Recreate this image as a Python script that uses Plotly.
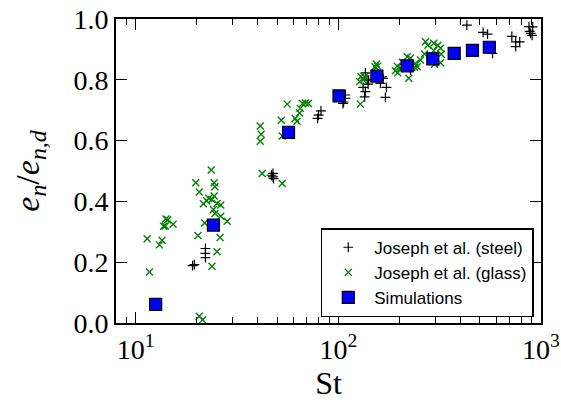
import math
import plotly.graph_objects as go

# --- data ---
steel_st = [19.5, 19.1, 22.1, 22.1, 22.1, 47.6, 47.6, 46.8, 47.9, 79.0, 79.9, 82.1,
            105.5, 108.3, 108.3, 106.2, 136.0, 138.7, 132.5, 136.0, 134.9, 140.3, 141.2,
            161.3, 166.3, 172.7, 170.7, 164.4, 227.0, 430.8, 518.0, 545.0, 577.0, 718.0,
            750.0, 785.0, 750.0, 872.5, 910.0, 889.0, 904.0, 879.0]
steel_e = [0.192, 0.189, 0.245, 0.229, 0.215, 0.492, 0.481, 0.486, 0.475, 0.673, 0.684, 0.698,
           0.722, 0.750, 0.739, 0.727, 0.823, 0.801, 0.775, 0.761, 0.744, 0.786, 0.799,
           0.788, 0.805, 0.775, 0.742, 0.810, 0.832, 0.980, 0.956, 0.950, 0.887, 0.943,
           0.925, 0.925, 0.909, 0.975, 0.974, 0.953, 0.946, 0.959]

glass_st = [19.8, 20.6, 21.6, 21.9, 20.3, 14.1, 14.4, 13.75, 14.0, 15.3, 11.4, 13.5, 13.1,
            11.7, 20.6, 21.4, 23.6, 24.4, 24.6, 24.4, 22.95, 23.75, 22.4, 25.2, 26.3, 24.2,
            24.6, 26.3, 28.3, 26.1, 25.2, 23.8, 42.1, 41.2, 41.6, 41.2, 52.9, 55.96, 52.3,
            52.9, 61.3, 62.5, 64.4, 64.9, 66.6, 68.7, 71.1, 128.4, 129.4, 132.5, 127.4,
            134.5, 154.1, 151.8, 156.4, 195.1, 191.3, 196.4, 202.6, 218.6, 227.0, 240.3,
            244.9, 237.6, 222.6, 269.2, 276.4, 295.9, 309.7, 319.3, 266.1, 282.7, 319.3,
            298.3, 295.9, 321.9, 207.2, 254.3]
glass_e = [0.461, 0.431, 0.392, 0.329, 0.288, 0.342, 0.340, 0.318, 0.319, 0.325, 0.277, 0.272,
           0.257, 0.168, 0.022, 0.011, 0.503, 0.461, 0.448, 0.418, 0.410, 0.406, 0.402, 0.393,
           0.388, 0.373, 0.360, 0.351, 0.335, 0.281, 0.234, 0.187, 0.492, 0.648, 0.621, 0.598,
           0.459, 0.720, 0.667, 0.615, 0.673, 0.664, 0.691, 0.706, 0.722, 0.724, 0.722, 0.720,
           0.810, 0.799, 0.794, 0.810, 0.852, 0.843, 0.845, 0.845, 0.830, 0.823, 0.838, 0.876,
           0.871, 0.854, 0.843, 0.841, 0.805, 0.925, 0.914, 0.920, 0.914, 0.904, 0.885, 0.881,
           0.856, 0.851, 0.896, 0.884, 0.858, 0.865]

sim_st = [12.56, 24.2, 56.8, 100.8, 155.0, 218.6, 292.5, 373.0, 459.0, 556.0]
sim_e = [0.061, 0.322, 0.627, 0.747, 0.812, 0.846, 0.869, 0.887, 0.897, 0.907]

x_tickvals = [10, 100, 1000]
x_ticktext = ["10<sup>1</sup>", "10<sup>2</sup>", "10<sup>3</sup>"]
y_tickvals = [0.0, 0.2, 0.4, 0.6, 0.8, 1.0]
y_ticktext = ["0.0", "0.2", "0.4", "0.6", "0.8", "1.0"]

serif = "Liberation Serif"
sans = "Liberation Sans"

fig = go.Figure()
fig.add_trace(go.Scatter(
    x=steel_st, y=steel_e, mode="markers", name="Joseph et al. (steel)",
    marker=dict(symbol="cross-thin", size=7, color="black",
                line=dict(color="black", width=1.2))))
fig.add_trace(go.Scatter(
    x=glass_st, y=glass_e, mode="markers", name="Joseph et al. (glass)",
    marker=dict(symbol="x-thin", size=7, color="green",
                line=dict(color="green", width=1.4))))
fig.add_trace(go.Scatter(
    x=sim_st, y=sim_e, mode="markers", name="Simulations",
    marker=dict(symbol="square", size=12, color="#0000ff",
                line=dict(color="black", width=1.2))))

fig.update_layout(
    width=561, height=403,
    margin=dict(l=116, r=20, t=19, b=80, autoexpand=False),
    paper_bgcolor="white", plot_bgcolor="white",
    showlegend=True,
    legend=dict(x=0.983, y=0.019, xanchor="right", yanchor="bottom",
                bgcolor="white", bordercolor="black", borderwidth=1.5,
                font=dict(family=sans, size=17, color="black"),
                tracegroupgap=0, itemwidth=42),
)
fig.update_xaxes(
    type="log", range=[math.log10(8), 3], automargin=False,
    tickvals=x_tickvals, ticktext=x_ticktext,
    ticks="inside", ticklen=11, tickwidth=1.2, tickcolor="black",
    minor=dict(ticks="inside", ticklen=6, tickwidth=1, tickcolor="black",
               dtick="D1", showgrid=False),
    showline=True, linecolor="black", linewidth=2, mirror="ticks",
    showgrid=False, zeroline=False,
    tickfont=dict(family=serif, size=28, color="black"),
    title=dict(text="St", font=dict(family=serif, size=32, color="black"), standoff=0),
)
fig.update_yaxes(
    range=[0, 1.0], automargin=False,
    tickvals=y_tickvals, ticktext=y_ticktext,
    ticks="inside", ticklen=11, tickwidth=1.2, tickcolor="black",
    showline=True, linecolor="black", linewidth=2, mirror="ticks",
    showgrid=False, zeroline=False,
    tickfont=dict(family=serif, size=28, color="black"),
    title=dict(text="<i>e<sub>n</sub></i>/<i>e<sub>n,d</sub></i>",
               font=dict(family=serif, size=34, color="black"), standoff=24),
)

fig.write_html("out.html", config={"displayModeBar": False},
               post_script="document.body.style.margin='0';")
